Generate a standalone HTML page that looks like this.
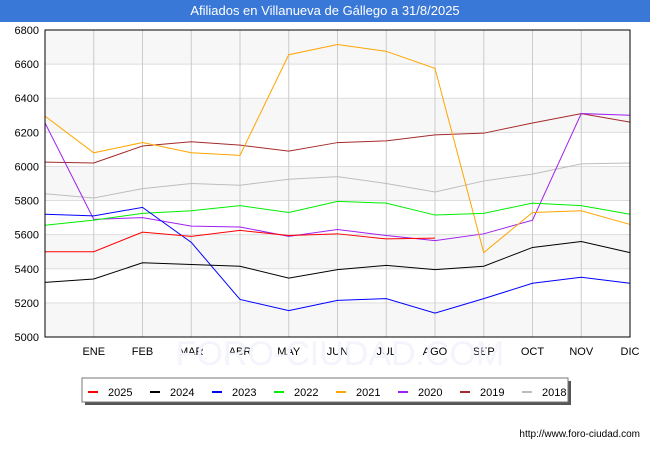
<!DOCTYPE html>
<html><head><meta charset="utf-8"><style>
body{margin:0;width:650px;height:450px;background:#fff;font-family:"Liberation Sans","DejaVu Sans",sans-serif;overflow:hidden}
#title{position:absolute;left:0;top:0;width:650px;height:22px;background:#3a78d8;color:#fff;font-size:13px;text-align:center;line-height:22px}
</style></head><body>
<div id="title">Afiliados en Villanueva de Gállego a 31/8/2025</div>
<svg id="c" width="650" height="450" style="position:absolute;left:0;top:0"></svg>
<script>
const months=["","ENE","FEB","MAR","ABR","MAY","JUN","JUL","AGO","SEP","OCT","NOV","DIC"];
const yTicks=[5000,5200,5400,5600,5800,6000,6200,6400,6600,6800];
const seriesNames=["2025","2024","2023","2022","2021","2020","2019","2018"];
const seriesColors=["#ff0000","#000000","#0000ff","#00ee00","#ffa500","#a020f0","#a52a2a","#bdbdbd"];
const s2025=[5500,5500,5615,5590,5625,5595,5605,5575,5580];
const s2024=[5320,5340,5435,5425,5415,5345,5395,5420,5395,5415,5525,5560,5495];
const s2023=[5720,5710,5760,5555,5220,5155,5215,5225,5140,5225,5315,5350,5315];
const s2022=[5655,5685,5725,5740,5770,5730,5795,5785,5715,5725,5785,5770,5720];
const s2021=[6295,6080,6140,6080,6065,6655,6715,6675,6575,5495,5730,5740,5660];
const s2020=[6255,5690,5700,5650,5645,5590,5630,5595,5565,5605,5685,6310,6300];
const s2019=[6025,6020,6120,6145,6125,6090,6140,6150,6185,6195,6255,6310,6260];
const s2018=[5840,5815,5870,5900,5890,5925,5940,5900,5850,5915,5955,6015,6020];
const allSeries=[s2025,s2024,s2023,s2022,s2021,s2020,s2019,s2018];
const L=45,R=630,T=30,B=337,ymin=5000,ymax=6800;
const X=i=>L+i*(R-L)/12;
const Y=v=>B-(v-ymin)/(ymax-ymin)*(B-T);
const svg=document.getElementById('c');
const NS="http://www.w3.org/2000/svg";
function mk(t,a,p){const e=document.createElementNS(NS,t);for(const k in a)e.setAttribute(k,a[k]);(p||svg).appendChild(e);return e;}
for(let i=0;i<yTicks.length-1;i++){
 if(i%2==0){const r=mk('rect',{x:L,y:Y(yTicks[i+1]),width:R-L,height:Y(yTicks[i])-Y(yTicks[i+1]),fill:'#f7f7f7'});
 
 }
}
yTicks.forEach(v=>{
 const l=mk('line',{x1:L,x2:R,y1:Y(v),y2:Y(v),stroke:'#dddddd','stroke-width':1});
 
 
 const t=mk('text',{x:L-6,y:Y(v)+4,'text-anchor':'end','font-size':11,fill:'#000'});t.textContent=v;
 
 
});
months.forEach((m,i)=>{
 if(i>0){const l=mk('line',{x1:X(i),x2:X(i),y1:T,y2:B,stroke:'#cccccc','stroke-width':1});
 
 }
 const t=mk('text',{x:X(i),y:B+18,'text-anchor':'middle','font-size':11,fill:'#000'});t.textContent=m;
 
 
});
const wm=mk('text',{x:340,y:365,'text-anchor':'middle','font-size':34,fill:'#f3f4fc'});wm.textContent="FORO-CIUDAD.COM";


for(let s=allSeries.length-1;s>=0;s--){
 const pts=allSeries[s].map((v,i)=>X(i)+','+Y(v)).join(' ');
 const p=mk('polyline',{points:pts,fill:'none',stroke:seriesColors[s],'stroke-width':1});
 
 
}
const fr=mk('rect',{x:L,y:T,width:R-L,height:B-T,fill:'none',stroke:'#000','stroke-width':1});


const sh=mk('rect',{x:85,y:381,width:486,height:24,fill:'#555'});


const lb=mk('rect',{x:82,y:378,width:486,height:24,fill:'#fff',stroke:'#777'});


seriesNames.forEach((n,i)=>{
 const x0=88+i*62;
 const l=mk('line',{x1:x0,x2:x0+10,y1:392,y2:392,stroke:seriesColors[i],'stroke-width':2});
 
 
 const t=mk('text',{x:x0+20,y:396,'font-size':11,fill:'#000'});t.textContent=n;
 
 
});
const u=mk('text',{x:640,y:437,'text-anchor':'end','font-size':10,fill:'#000'});u.textContent="http://www.foro-ciudad.com";


</script>
</body></html>
